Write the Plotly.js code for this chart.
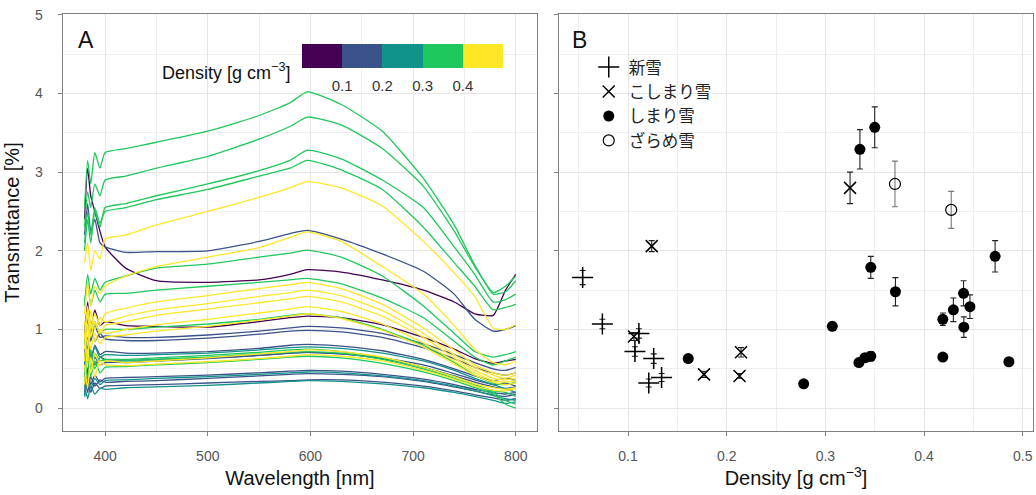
<!DOCTYPE html>
<html>
<head>
<meta charset="utf-8">
<script src="https://cdn.plot.ly/plotly-3.0.1.min.js"></script>
<style>html,body{margin:0;padding:0;background:#fff;}#chart{width:1036px;height:495px;}</style>
</head>
<body>
<div id="chart"></div>
<script>
// ---------- Panel A: spectra ----------
const wavelength = [380, 383, 386, 390, 395, 400, 420, 450, 500, 550, 580, 597, 630, 670, 710, 740, 760, 778, 790, 800];

const spP1 = [2.4, 3.05, 2.7, 2.5, 2.25, 2.05, 1.78, 1.62, 1.6, 1.63, 1.7, 1.76, 1.73, 1.63, 1.5, 1.35, 1.2, 1.18, 1.5, 1.7];
const spP2 = [0.9, 1.35, 1.0, 1.25, 1.05, 1.1, 1.05, 1.04, 1.03, 1.1, 1.15, 1.17, 1.15, 1.06, 0.9, 0.75, 0.63, 0.57, 0.6, 0.62];
const spB1 = [2.2, 2.6, 2.25, 2.4, 2.1, 2.05, 1.98, 1.99, 2.0, 2.12, 2.22, 2.26, 2.15, 1.96, 1.74, 1.45, 1.13, 0.98, 1.0, 1.05];
const spB2 = [0.8, 1.15, 0.85, 1.05, 0.9, 0.92, 0.9, 0.9, 0.93, 0.98, 1.02, 1.04, 1.02, 0.95, 0.82, 0.68, 0.58, 0.5, 0.48, 0.52];
const spB3 = [1.1, 0.75, 1.05, 0.85, 0.95, 0.88, 0.86, 0.86, 0.89, 0.94, 0.98, 0.99, 0.97, 0.9, 0.77, 0.63, 0.52, 0.45, 0.42, 0.45];
const spB4 = [0.55, 0.9, 0.6, 0.8, 0.68, 0.72, 0.7, 0.7, 0.72, 0.76, 0.8, 0.81, 0.79, 0.73, 0.62, 0.5, 0.41, 0.35, 0.38, 0.35];
const spB5 = [0.75, 0.45, 0.7, 0.55, 0.65, 0.62, 0.61, 0.62, 0.64, 0.67, 0.7, 0.71, 0.69, 0.64, 0.55, 0.44, 0.36, 0.3, 0.32, 0.28];
const spB6 = [0.4, 0.7, 0.5, 0.65, 0.55, 0.58, 0.58, 0.6, 0.63, 0.67, 0.7, 0.71, 0.69, 0.63, 0.52, 0.41, 0.33, 0.27, 0.25, 0.27];
const spB7 = [0.2, 0.45, 0.3, 0.42, 0.33, 0.38, 0.39, 0.4, 0.42, 0.45, 0.47, 0.48, 0.47, 0.43, 0.37, 0.3, 0.24, 0.2, 0.18, 0.2];
const spB8 = [0.45, 0.2, 0.4, 0.28, 0.36, 0.33, 0.34, 0.35, 0.38, 0.41, 0.43, 0.44, 0.43, 0.4, 0.34, 0.27, 0.22, 0.17, 0.15, 0.18];
const spB9 = [0.15, 0.35, 0.2, 0.32, 0.25, 0.28, 0.29, 0.3, 0.32, 0.34, 0.35, 0.36, 0.36, 0.33, 0.28, 0.22, 0.17, 0.13, 0.1, 0.12];
const spT1 = [0.5, 0.85, 0.6, 0.78, 0.65, 0.68, 0.67, 0.68, 0.7, 0.74, 0.77, 0.78, 0.76, 0.7, 0.6, 0.48, 0.38, 0.3, 0.25, 0.2];
const spT2 = [0.15, 0.4, 0.25, 0.38, 0.3, 0.35, 0.36, 0.38, 0.4, 0.43, 0.45, 0.46, 0.45, 0.41, 0.35, 0.28, 0.22, 0.16, 0.12, 0.1];
const spT3 = [0.3, 0.12, 0.28, 0.18, 0.25, 0.24, 0.26, 0.27, 0.29, 0.32, 0.34, 0.35, 0.34, 0.31, 0.26, 0.2, 0.15, 0.1, 0.06, 0.08];
const spG1 = [2.55, 3.15, 2.85, 3.25, 3.05, 3.25, 3.3, 3.38, 3.52, 3.72, 3.88, 4.02, 3.86, 3.52, 2.92, 2.33, 1.82, 1.45, 1.48, 1.62];
const spG2 = [2.3, 2.75, 2.55, 2.85, 2.7, 2.9, 2.95, 3.05, 3.2, 3.42, 3.58, 3.7, 3.6, 3.3, 2.82, 2.25, 1.8, 1.47, 1.55, 1.68];
const spG3 = [2.0, 2.4, 2.1, 2.5, 2.3, 2.55, 2.6, 2.7, 2.85, 3.02, 3.15, 3.28, 3.17, 2.9, 2.55, 2.05, 1.7, 1.35, 1.38, 1.45];
const spG4 = [2.1, 2.5, 2.2, 2.55, 2.35, 2.5, 2.55, 2.65, 2.78, 2.95, 3.05, 3.15, 3.03, 2.78, 2.3, 1.85, 1.55, 1.25, 1.28, 1.32];
const spG5 = [1.3, 1.7, 1.45, 1.65, 1.5, 1.6, 1.68, 1.78, 1.83, 1.92, 1.97, 2.01, 1.92, 1.68, 1.3, 0.95, 0.72, 0.65, 0.68, 0.72];
const spG6 = [1.35, 1.6, 1.3, 1.5, 1.35, 1.45, 1.46, 1.5, 1.55, 1.6, 1.63, 1.65, 1.58, 1.4, 1.15, 0.85, 0.65, 0.55, 0.6, 0.65];
const spG7 = [0.8, 1.2, 0.9, 1.1, 0.95, 1.0, 1.0, 1.03, 1.07, 1.13, 1.18, 1.2, 1.15, 1.0, 0.8, 0.58, 0.42, 0.32, 0.3, 0.33];
const spG8 = [0.4, 0.8, 0.5, 0.7, 0.6, 0.62, 0.62, 0.64, 0.67, 0.71, 0.74, 0.75, 0.72, 0.64, 0.52, 0.4, 0.3, 0.22, 0.2, 0.15];
const spG9 = [0.7, 0.35, 0.75, 0.5, 0.65, 0.6, 0.6, 0.62, 0.65, 0.69, 0.71, 0.72, 0.7, 0.62, 0.5, 0.38, 0.28, 0.2, 0.1, 0.05];
const spG10 = [0.3, 0.65, 0.4, 0.6, 0.45, 0.52, 0.53, 0.55, 0.58, 0.62, 0.65, 0.66, 0.64, 0.57, 0.46, 0.35, 0.26, 0.18, 0.05, 0.0];
const spY1 = [1.85, 2.1, 1.75, 2.0, 1.9, 2.15, 2.2, 2.33, 2.5, 2.68, 2.8, 2.88, 2.8, 2.57, 2.12, 1.72, 1.42, 1.02, 1.0, 1.06];
const spY2 = [1.2, 1.6, 1.3, 1.55, 1.45, 1.55, 1.68, 1.8, 1.92, 2.04, 2.17, 2.24, 2.12, 1.8, 1.45, 1.05, 0.75, 0.58, 0.55, 0.6];
const spY3 = [0.9, 1.3, 1.0, 1.2, 1.05, 1.2, 1.27, 1.35, 1.43, 1.52, 1.57, 1.6, 1.52, 1.32, 1.02, 0.74, 0.55, 0.45, 0.42, 0.45];
const spY4 = [1.1, 0.8, 1.25, 1.0, 1.15, 1.1, 1.17, 1.25, 1.33, 1.42, 1.47, 1.5, 1.43, 1.24, 0.95, 0.68, 0.52, 0.42, 0.38, 0.42];
const spY5 = [0.75, 1.2, 0.9, 1.1, 0.95, 1.05, 1.1, 1.18, 1.26, 1.34, 1.39, 1.42, 1.35, 1.17, 0.9, 0.64, 0.48, 0.38, 0.36, 0.38];
const spY6 = [0.95, 0.6, 1.1, 0.85, 1.0, 0.95, 1.0, 1.06, 1.13, 1.21, 1.26, 1.29, 1.23, 1.07, 0.83, 0.6, 0.45, 0.35, 0.33, 0.35];
const spY7 = [0.6, 1.05, 0.75, 0.95, 0.82, 0.9, 0.93, 0.98, 1.04, 1.12, 1.17, 1.2, 1.14, 0.99, 0.78, 0.56, 0.42, 0.33, 0.3, 0.32];
const spY8 = [0.3, 0.75, 0.45, 0.7, 0.55, 0.6, 0.58, 0.6, 0.64, 0.69, 0.72, 0.74, 0.72, 0.65, 0.52, 0.4, 0.31, 0.26, 0.24, 0.26];
const spY9 = [0.55, 0.25, 0.65, 0.4, 0.6, 0.55, 0.54, 0.56, 0.59, 0.63, 0.66, 0.68, 0.66, 0.6, 0.48, 0.37, 0.28, 0.23, 0.22, 0.25];

// spectra in order of sample density (drawing order)
const spectra = [spP1, spP2, spB3, spB4, spB2, spB9, spB1, spB5, spB8, spB6, spB7, spT2, spT1, spT3,
                 spG7, spG4, spG10, spG2, spG9, spG8, spG5, spG1, spG3, spG6,
                 spY6, spY8, spY1, spY5, spY3, spY7, spY4, spY2, spY9];
const spectrumDensity = [0.054, 0.074, 0.106, 0.107, 0.111, 0.121, 0.124, 0.126, 0.134, 0.161, 0.177, 0.213, 0.2145, 0.278,
                         0.307, 0.325, 0.334, 0.335, 0.340, 0.346, 0.346, 0.350, 0.3705, 0.371,
                         0.419, 0.419, 0.4275, 0.4297, 0.440, 0.4403, 0.4465, 0.472, 0.486];

// colour bins
const binEdges = [0.1, 0.2, 0.3, 0.4];
const binColors = ['#440154', '#3B528B', '#12938A', '#20C75C', '#FDE725'];
const colorbarTicks = [0.1, 0.2, 0.3, 0.4];

// ---------- Panel B: transmittance vs density ----------
const shinX = [0.054, 0.074, 0.111, 0.107, 0.126, 0.134, 0.121];
const shinY = [1.66, 1.07, 0.95, 0.72, 0.63, 0.39, 0.32];
const shinE = [0.09, 0.06, 0.06, 0.06, 0.06, 0.05, 0.05];

const koshiX = [0.124, 0.106, 0.177, 0.2145, 0.213, 0.325];
const koshiY = [2.06, 0.91, 0.43, 0.71, 0.41, 2.80];
const koshiE = [0.07, 0.05, 0.04, 0.06, 0.03, 0.20];

const shimaX = [0.335, 0.350, 0.161, 0.278, 0.307, 0.346, 0.371, 0.334, 0.340, 0.346, 0.419, 0.4297, 0.440, 0.4465, 0.4403, 0.419, 0.472, 0.486];
const shimaY = [3.29, 3.57, 0.63, 0.31, 1.04, 1.79, 1.48, 0.58, 0.64, 0.66, 1.13, 1.25, 1.46, 1.29, 1.03, 0.65, 1.93, 0.59];
const shimaE = [0.25, 0.26, 0.03, 0.03, 0.05, 0.14, 0.18, 0.03, 0.04, 0.06, 0.08, 0.15, 0.16, 0.15, 0.13, 0.04, 0.20, 0.04];

const zarameX = [0.3705, 0.4275];
const zarameY = [2.85, 2.52];
const zarameE = [0.29, 0.235];

const legendNames = ['新雪', 'こしまり雪', 'しまり雪', 'ざらめ雪'];

// ---------- build ----------
function binColor(d) {
  let i = 0;
  while (i < binEdges.length && d >= binEdges[i]) i++;
  return binColors[i];
}

const traces = [];
spectra.forEach((s, k) => {
  traces.push({
    type: 'scatter', mode: 'lines', x: wavelength, y: s,
    xaxis: 'x', yaxis: 'y', showlegend: false, hoverinfo: 'skip',
    line: {color: binColor(spectrumDensity[k]), width: 1.3, shape: 'spline', smoothing: 0.5}
  });
});

// discrete colour scale for the density colour bar
const cs = [];
binColors.forEach((c, i) => { cs.push([i / binColors.length, c]); cs.push([(i + 1) / binColors.length, c]); });
traces.push({
  type: 'scatter', mode: 'markers', x: [null], y: [null], xaxis: 'x', yaxis: 'y',
  showlegend: false, hoverinfo: 'skip',
  marker: {
    color: [0.25], cmin: 0, cmax: 0.5, colorscale: cs, showscale: true, size: 0.1,
    colorbar: {
      orientation: 'h', x: 0.35, xanchor: 'center', y: 0.928, yanchor: 'top',
      len: 201, lenmode: 'pixels', thickness: 24, thicknessmode: 'pixels',
      tickvals: colorbarTicks, ticktext: colorbarTicks.map(v => v.toFixed(1)),
      ticks: 'outside', ticklen: 5, tickcolor: 'rgba(0,0,0,0)', outlinewidth: 0, xpad: 0, ypad: 0,
      tickfont: {family: 'Liberation Sans, Arial, sans-serif', size: 15, color: '#333'}
    }
  }
});

const errCommon = {type: 'data', visible: true, thickness: 1.1, width: 3};
traces.push({
  type: 'scatter', mode: 'markers', name: legendNames[0], x: shinX, y: shinY, xaxis: 'x2', yaxis: 'y2',
  error_y: Object.assign({array: shinE, color: '#222'}, errCommon),
  marker: {symbol: 'cross-thin', size: 15, color: '#000', line: {color: '#000', width: 1.5}}
});
traces.push({
  type: 'scatter', mode: 'markers', name: legendNames[1], x: koshiX, y: koshiY, xaxis: 'x2', yaxis: 'y2',
  error_y: Object.assign({array: koshiE, color: '#222'}, errCommon),
  marker: {symbol: 'x-thin', size: 12, color: '#000', line: {color: '#000', width: 1.5}}
});
traces.push({
  type: 'scatter', mode: 'markers', name: legendNames[2], x: shimaX, y: shimaY, xaxis: 'x2', yaxis: 'y2',
  error_y: Object.assign({array: shimaE, color: '#222'}, errCommon),
  marker: {symbol: 'circle', size: 11, color: '#000', line: {width: 0}}
});
traces.push({
  type: 'scatter', mode: 'markers', name: legendNames[3], x: zarameX, y: zarameY, xaxis: 'x2', yaxis: 'y2',
  error_y: Object.assign({array: zarameE, color: '#777'}, errCommon),
  marker: {symbol: 'circle-open', size: 11, color: '#000', line: {color: '#000', width: 1.2}}
});

const tickFont = {family: 'Liberation Sans, Arial, sans-serif', size: 14, color: '#555'};
const titleFont = {family: 'Liberation Sans, Arial, sans-serif', size: 20, color: '#111'};
const axisCommon = {
  showline: true, mirror: true, linecolor: '#808080', linewidth: 1.3,
  ticks: 'outside', ticklen: 4, tickcolor: '#808080', tickwidth: 1,
  showgrid: true, gridcolor: '#e6e6e6', gridwidth: 1, zeroline: false,
  tickfont: tickFont
};

const layout = {
  width: 1036, height: 495,
  margin: {l: 63, r: 3, t: 14, b: 64},
  paper_bgcolor: '#fff', plot_bgcolor: '#fff',
  font: {family: 'Liberation Sans, Arial, sans-serif'},
  showlegend: true,
  legend: {
    x: 0.542, y: 0.914, xanchor: 'left', yanchor: 'top', bgcolor: 'rgba(0,0,0,0)',
    font: {family: 'Noto Sans CJK JP, sans-serif', size: 16.5, color: '#222'},
    itemsizing: 'trace', tracegroupgap: 0
  },
  xaxis: Object.assign({}, axisCommon, {
    domain: [0, 0.4887], range: [359, 820.7], tickvals: [400, 500, 600, 700, 800],
    minor: {dtick: 50, tick0: 350, showgrid: true, gridcolor: '#efefef', ticks: ''},
    ticklabelstandoff: 8,
    title: {text: 'Wavelength [nm]', font: titleFont, standoff: 8}
  }),
  yaxis: Object.assign({}, axisCommon, {
    domain: [0, 1], range: [-0.29, 5.01], tickvals: [0, 1, 2, 3, 4, 5],
    minor: {dtick: 0.5, tick0: 0, showgrid: true, gridcolor: '#efefef', ticks: ''},
    ticklabelstandoff: 12,
    title: {text: 'Transmittance [%]', font: titleFont, standoff: 10}
  }),
  xaxis2: Object.assign({}, axisCommon, {
    domain: [0.5113, 1], range: [0.030, 0.5104], anchor: 'y2', tickvals: [0.1, 0.2, 0.3, 0.4, 0.5],
    minor: {dtick: 0.05, tick0: 0, showgrid: true, gridcolor: '#efefef', ticks: ''},
    ticklabelstandoff: 8,
    title: {text: 'Density [g cm<sup>−3</sup>]', font: titleFont, standoff: 8}
  }),
  yaxis2: Object.assign({}, axisCommon, {
    domain: [0, 1], matches: 'y', anchor: 'x2', tickvals: [0, 1, 2, 3, 4, 5], showticklabels: false,
    minor: {dtick: 0.5, tick0: 0, showgrid: true, gridcolor: '#efefef', ticks: ''}
  }),
  annotations: [
    {text: 'A', xref: 'paper', yref: 'paper', x: 0.0237, y: 0.9376, xanchor: 'center', yanchor: 'middle', showarrow: false,
     font: {family: 'Liberation Sans, Arial, sans-serif', size: 23, color: '#111'}},
    {text: 'B', xref: 'paper', yref: 'paper', x: 0.532, y: 0.9376, xanchor: 'center', yanchor: 'middle', showarrow: false,
     font: {family: 'Liberation Sans, Arial, sans-serif', size: 23, color: '#111'}},
    {text: 'Density [g cm<sup>−3</sup>]', xref: 'paper', yref: 'paper', x: 0.236, y: 0.861, xanchor: 'right', yanchor: 'middle', showarrow: false,
     font: {family: 'Liberation Sans, Arial, sans-serif', size: 18, color: '#111'}}
  ]
};

Plotly.newPlot('chart', traces, layout, {displayModeBar: false, staticPlot: true});
</script>
</body>
</html>
